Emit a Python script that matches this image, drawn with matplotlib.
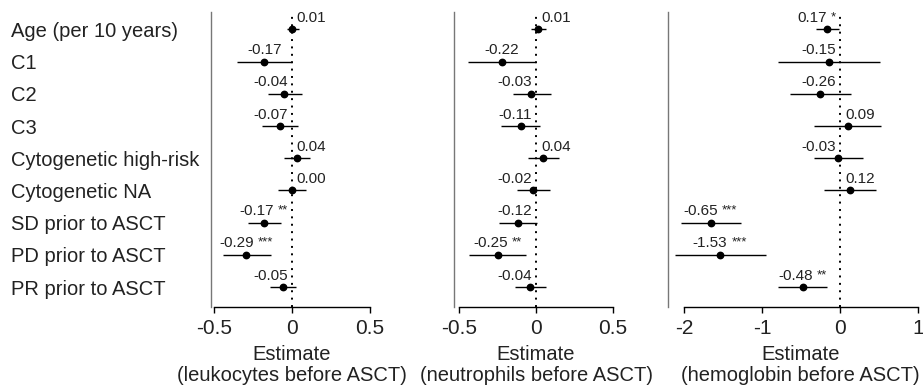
import numpy as np
import matplotlib.pyplot as plt

plt.rcParams['font.family'] = ['Liberation Sans', 'DejaVu Sans']

rows = ["Age (per 10 years)", "C1", "C2", "C3", "Cytogenetic high-risk",
        "Cytogenetic NA", "SD prior to ASCT", "PD prior to ASCT", "PR prior to ASCT"]

# leukocytes
leuk_est = [0.004, -0.175, -0.047, -0.075, 0.036, 0.003, -0.175, -0.29, -0.054]
leuk_lo = [-0.03, -0.35, -0.15, -0.19, -0.05, -0.085, -0.28, -0.44, -0.14]
leuk_hi = [0.05, 0.0, 0.064, 0.04, 0.12, 0.09, -0.07, -0.13, 0.03]
leuk_lab = ["0.01", "-0.17", "-0.04", "-0.07", "0.04", "0.00", "-0.17", "-0.29", "-0.05"]
leuk_sig = ["", "", "", "", "", "", "**", "***", ""]

# neutrophils
neut_est = [0.011, -0.22, -0.03, -0.10, 0.047, -0.017, -0.115, -0.25, -0.039]
neut_lo = [-0.03, -0.44, -0.15, -0.23, -0.05, -0.125, -0.24, -0.435, -0.136]
neut_hi = [0.063, 0.0, 0.10, 0.026, 0.15, 0.09, 0.005, -0.067, 0.063]
neut_lab = ["0.01", "-0.22", "-0.03", "-0.11", "0.04", "-0.02", "-0.12", "-0.25", "-0.04"]
neut_sig = ["", "", "", "", "", "", "", "**", ""]

# hemoglobin
hb_est = [-0.17, -0.14, -0.25, 0.10, -0.02, 0.13, -1.66, -1.54, -0.48]
hb_lo = [-0.31, -0.79, -0.64, -0.33, -0.33, -0.20, -2.04, -2.12, -0.79]
hb_hi = [-0.01, 0.51, 0.14, 0.53, 0.29, 0.46, -1.27, -0.95, -0.17]
hb_lab = ["0.17", "-0.15", "-0.26", "0.09", "-0.03", "0.12", "-0.65", "-1.53", "-0.48"]
hb_sig = ["*", "", "", "", "", "", "***", "***", "**"]

outcomes = ["leukocytes before ASCT", "neutrophils before ASCT", "hemoglobin before ASCT"]
xticks = [[-0.5, 0, 0.5], [-0.5, 0, 0.5], [-2, -1, 0, 1]]
xticklabels = [["-0.5", "0", "0.5"], ["-0.5", "0", "0.5"], ["-2", "-1", "0", "1"]]

W, H = 923, 392
fig = plt.figure(figsize=(W / 100, H / 100), dpi=100)

# panel placement in pixels: left, right, xlim
panels = [(210.6, 372.8, (-0.52, 0.52)),
          (454.4, 617.6, (-0.53, 0.53)),
          (668.4, 932.0, (-2.2, 1.18))]
ybot, ytop = 306.7, 12.0

data = [(leuk_est, leuk_lo, leuk_hi, leuk_lab, leuk_sig),
        (neut_est, neut_lo, neut_hi, neut_lab, neut_sig),
        (hb_est, hb_lo, hb_hi, hb_lab, hb_sig)]

txtcol = '#222222'
ypos = np.arange(len(rows), 0, -1)
all_txt = []
axes = []
for i, (left, right, xl) in enumerate(panels):
    ax = fig.add_axes([left / W, 1 - ybot / H, (right - left) / W, (ybot - ytop) / H])
    axes.append(ax)
    est, lo, hi, lab, sig = data[i]
    ax.set_xlim(xl)
    ax.set_ylim(0.39, 9.54)
    ax.axvline(0, color='black', lw=1.4, ls=(0, (1, 2.8)), zorder=1)
    ax.hlines(ypos, lo, hi, color='black', lw=1.0, zorder=2)
    ax.plot(est, ypos, 'o', color='black', ms=4.6, zorder=3)
    txts = []
    for j in range(len(rows)):
        t = ax.annotate(lab[j], (est[j], ypos[j]), xytext=(0, 7.5), textcoords='offset pixels',
                        ha='left', va='baseline', fontsize=11, color=txtcol)
        s = None
        if sig[j]:
            s = ax.annotate(sig[j], (est[j], ypos[j]), xytext=(0, 9), textcoords='offset pixels',
                            ha='left', va='baseline', fontsize=9.5, color=txtcol)
        txts.append((t, s, est[j]))
    all_txt.append(txts)

    for sp in ['top', 'right']:
        ax.spines[sp].set_visible(False)
    ax.spines['left'].set_color('#777777')
    ax.spines['left'].set_linewidth(1.0)
    ax.spines['bottom'].set_bounds(xticks[i][0], xticks[i][-1])
    ax.spines['bottom'].set_linewidth(1.0)
    ax.set_xticks(xticks[i])
    ax.set_xticklabels(xticklabels[i])
    ax.tick_params(axis='x', length=4, width=1, pad=5, labelsize=15, colors='black',
                   labelcolor=txtcol)
    ax.set_xlabel("Estimate\n(" + outcomes[i] + ")", fontsize=14.5, color=txtcol,
                  labelpad=5, linespacing=1.15)
    if i == 0:
        ax.set_yticks(ypos)
        ax.set_yticklabels(rows)
        ax.tick_params(axis='y', length=0, pad=143.5, labelsize=14.5, labelcolor=txtcol)
        for tl in ax.get_yticklabels():
            tl.set_horizontalalignment('left')
    else:
        ax.set_yticks([])

# centre the value labels over the points, but keep them off the dotted zero line
fig.canvas.draw()
r = fig.canvas.get_renderer()
gap = 4
for ax, txts in zip(axes, all_txt):
    x0 = ax.transData.transform((0, 0))[0]
    for t, s, xv in txts:
        px = ax.transData.transform((xv, 0))[0]
        wn = t.get_window_extent(r).width
        ws = s.get_window_extent(r).width + gap if s is not None else 0
        total = wn + ws
        start = px - total / 2
        if xv < 0 and start + total > x0 - 4:
            start = x0 - 4 - total
        elif xv >= 0 and start < x0 + 5:
            start = x0 + 5
        t.xyann = (start - px, t.xyann[1])
        if s is not None:
            s.xyann = (start - px + wn + gap, s.xyann[1])

fig.savefig("out.png", dpi=100)
